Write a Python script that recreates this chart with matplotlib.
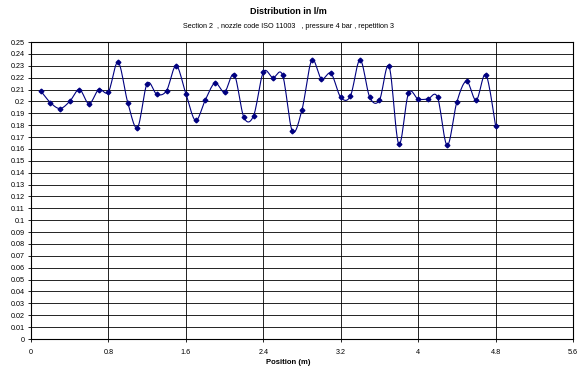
import numpy as np
import matplotlib
matplotlib.use("Agg")
import matplotlib.pyplot as plt

plt.rcParams['font.family'] = ['Liberation Sans', 'DejaVu Sans']

positions = [0.1, 0.2, 0.3, 0.4, 0.5, 0.6, 0.7, 0.8, 0.9, 1.0,
             1.1, 1.2, 1.3, 1.4, 1.5, 1.6, 1.7, 1.8, 1.9, 2.0,
             2.1, 2.2, 2.3, 2.4, 2.5, 2.6, 2.7, 2.8, 2.9, 3.0,
             3.1, 3.2, 3.3, 3.4, 3.5, 3.6, 3.7, 3.8, 3.9, 4.0,
             4.1, 4.2, 4.3, 4.4, 4.5, 4.6, 4.7, 4.8]
values = [0.209, 0.199, 0.194, 0.200, 0.210, 0.198, 0.210, 0.208, 0.233, 0.199,
          0.178, 0.215, 0.206, 0.209, 0.230, 0.2065, 0.184, 0.201, 0.2155, 0.208,
          0.2225, 0.1865, 0.188, 0.2245, 0.220, 0.222, 0.175, 0.193, 0.2345, 0.219,
          0.2235, 0.2035, 0.2045, 0.235, 0.2035, 0.201, 0.2295, 0.164, 0.2067, 0.202,
          0.202, 0.2035, 0.163, 0.1995, 0.217, 0.201, 0.2225, 0.1795]

xticks = [0, 0.8, 1.6, 2.4, 3.2, 4, 4.8, 5.6]
xtick_labels = ["0", "0.8", "1.6", "2.4", "3.2", "4", "4.8", "5.6"]
yticks = [round(i * 0.01, 2) for i in range(26)]
ytick_labels = ["0"] + ["%g" % v for v in yticks[1:]]

title = "Distribution in l/m"
subtitle = "Section 2  , nozzle code ISO 11003   , pressure 4 bar , repetition 3"
xlabel = "Position (m)"


def smooth(x, y, n=12):
    # Catmull-Rom style smoothing, similar to spreadsheet smoothed lines
    x = np.asarray(x, float)
    y = np.asarray(y, float)
    px = np.concatenate([[x[0]], x, [x[-1]]])
    py = np.concatenate([[y[0]], y, [y[-1]]])
    xs, ys = [], []
    t = np.linspace(0, 1, n, endpoint=False)
    for i in range(1, len(px) - 2):
        x0, x1, x2, x3 = px[i - 1], px[i], px[i + 1], px[i + 2]
        y0, y1, y2, y3 = py[i - 1], py[i], py[i + 1], py[i + 2]
        c1x, c1y = x1 + (x2 - x0) / 6, y1 + (y2 - y0) / 6
        c2x, c2y = x2 - (x3 - x1) / 6, y2 - (y3 - y1) / 6
        bx = (1 - t) ** 3 * x1 + 3 * (1 - t) ** 2 * t * c1x + 3 * (1 - t) * t ** 2 * c2x + t ** 3 * x2
        by = (1 - t) ** 3 * y1 + 3 * (1 - t) ** 2 * t * c1y + 3 * (1 - t) * t ** 2 * c2y + t ** 3 * y2
        xs.extend(bx)
        ys.extend(by)
    xs.append(x[-1])
    ys.append(y[-1])
    return np.array(xs), np.array(ys)


fig = plt.figure(figsize=(5.77, 3.71), dpi=100)
ax = fig.add_axes([31 / 577, 1 - 339 / 371, (573 - 31) / 577, (339 - 42) / 371])

sx, sy = smooth(positions, values)
ax.plot(sx, sy, color="#000080", lw=0.8, zorder=3)
ax.plot(positions, values, linestyle="none", marker="D", ms=2.4,
        color="#000080", zorder=4)

ax.set_xlim(0, 5.6)
ax.set_ylim(0, 0.25)
ax.set_xticks(xticks)
ax.set_xticklabels(xtick_labels)
ax.set_yticks(yticks)
ax.set_yticklabels(ytick_labels)
ax.grid(True, color="black", lw=0.6)
ax.set_axisbelow(True)
for s in ax.spines.values():
    s.set_color("black")
    s.set_linewidth(0.8)
ax.tick_params(axis="both", labelsize=5.2, length=2.5, width=0.6, pad=2)
ax.tick_params(axis="x", pad=5)

fig.text(0.5, 1 - 11 / 371, title, ha="center", va="center",
         fontsize=6.5, fontweight="bold")
fig.text(0.5, 1 - 27 / 371, subtitle, ha="center", va="center", fontsize=5.2)
fig.text(0.5, 1 - 362 / 371, xlabel, ha="center", va="center",
         fontsize=5.5, fontweight="bold")

fig.savefig("out.png", dpi=100)
